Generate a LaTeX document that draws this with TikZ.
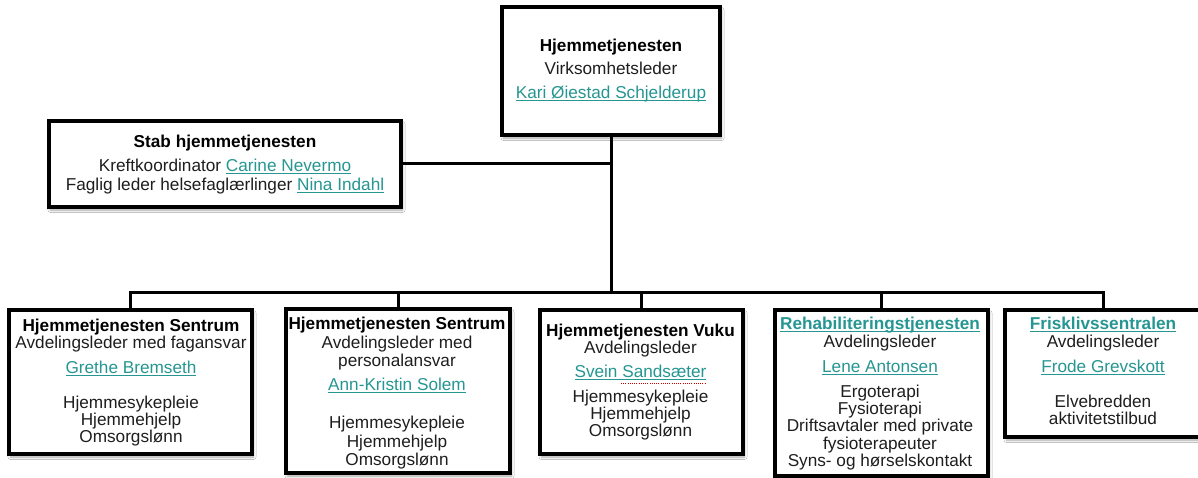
\documentclass[tikz,border=0pt]{standalone}
\usepackage{fontspec}
\setmainfont{Liberation Sans}
\usetikzlibrary{shadows.blur}
\definecolor{linkteal}{RGB}{38,150,146}
\definecolor{bodyink}{RGB}{30,30,30}
% underlined link text in teal
\newcommand{\lnk}[1]{{\color{linkteal}\setbox0\hbox{#1}\rlap{\rule[-2.8bp]{\wd0}{1.1bp}}\box0}}
\newcommand{\hd}[1]{{\color{black}\bfseries #1}}
\newcommand{\hdlnk}[1]{{\bfseries\lnk{#1}}}
\begin{document}
\begin{tikzpicture}[x=1bp,y=-1bp,
  box/.style={draw=black, line width=4bp, fill=white, rectangle, inner sep=0pt, outer sep=0pt,
    blur shadow={shadow xshift=1.5bp, shadow yshift=-3bp, shadow blur radius=2.5bp, shadow opacity=35}},
  txt/.style={align=center, inner sep=0pt, anchor=north, text=bodyink,
    font=\fontsize{17.2bp}{17bp}\selectfont},
  wire/.style={line width=3bp, draw=black}]
\useasboundingbox (0,0) rectangle (1198,478);
\clip (0,0) rectangle (1198,478);
\fill[white] (0,0) rectangle (1198,478);

% boxes
\node[box, minimum width=218bp, minimum height=128bp] (top)  at (611,71) {};
\node[box, minimum width=352bp, minimum height=86bp]  (stab) at (225,164) {};
\node[box, minimum width=243bp, minimum height=144bp] (b1) at (130.5,382) {};
\node[box, minimum width=224bp, minimum height=164bp] (b2) at (398,391) {};
\node[box, minimum width=203bp, minimum height=144bp] (b3) at (641.5,382) {};
\node[box, minimum width=213bp, minimum height=166bp] (b4) at (881.5,393) {};
\node[box, minimum width=196bp, minimum height=127bp] (b5) at (1103,373.5) {};

% connectors
\coordinate (hub) at (611,293);
\draw[wire] (top.south) -- (hub);
\draw[wire] (stab.east) -- (stab.east -| top.south);
\draw[wire] (b1.north) |- (hub) -| (b5.north);
\draw[wire] (b2.north) -- (b2.north |- hub);
\draw[wire] (b3.north) -- (b3.north |- hub);
\draw[wire] (b4.north) -- (b4.north |- hub);

% texts
\node[txt] (topt) at (611,39) {\hd{Hjemmetjenesten}\\[6bp] Virksomhetsleder\\[7bp] \lnk{Kari Øiestad Schjelderup}};
\node[txt] (stabt) at (225,135) {\hd{Stab hjemmetjenesten}\\[7bp] Kreftkoordinator \lnk{Carine Nevermo}\\[2bp] Faglig leder helsefaglærlinger \lnk{Nina Indahl}};
\node[txt] (b1t) at (131,319) {\hd{Hjemmetjenesten Sentrum}\\ Avdelingsleder med fagansvar\\[8bp] \lnk{Grethe Bremseth}\\[18bp] Hjemmesykepleie\\ Hjemmehjelp\\ Omsorgslønn};
\node[txt] (b2t) at (397,317) {\hd{Hjemmetjenesten Sentrum}\\[1.5bp] Avdelingsleder med\\[1.5bp] personalansvar\\[6.5bp] \lnk{Ann-Kristin Solem}\\[21.5bp] Hjemmesykepleie\\[1.5bp] Hjemmehjelp\\[1.5bp] Omsorgslønn};
\node[txt] (b3t) at (640.5,324) {\hd{Hjemmetjenesten Vuku}\\ Avdelingsleder\\[7bp] \lnk{Svein Sandsæter}\\[8bp] Hjemmesykepleie\\ Hjemmehjelp\\ Omsorgslønn};
\node[txt] (b4t) at (880,317) {\hdlnk{Rehabiliteringstjenesten}\\[0.5bp] Avdelingsleder\\[8bp] \lnk{Lene Antonsen}\\[8bp] Ergoterapi\\ Fysioterapi\\[0.5bp] Driftsavtaler med private\\[0.5bp] fysioterapeuter\\[0.5bp] Syns- og hørselskontakt};
\node[txt] (b5t) at (1103,317) {\hdlnk{Frisklivssentralen}\\[0.5bp] Avdelingsleder\\[8bp] \lnk{Frode Grevskott}\\[18bp] Elvebredden\\ aktivitetstilbud};

% spelling mark under the surname
\draw[red!80!black, line width=0.9bp, dash pattern=on 1bp off 1.2bp] (621,383.8) -- (705,383.8);
\end{tikzpicture}
\end{document}
